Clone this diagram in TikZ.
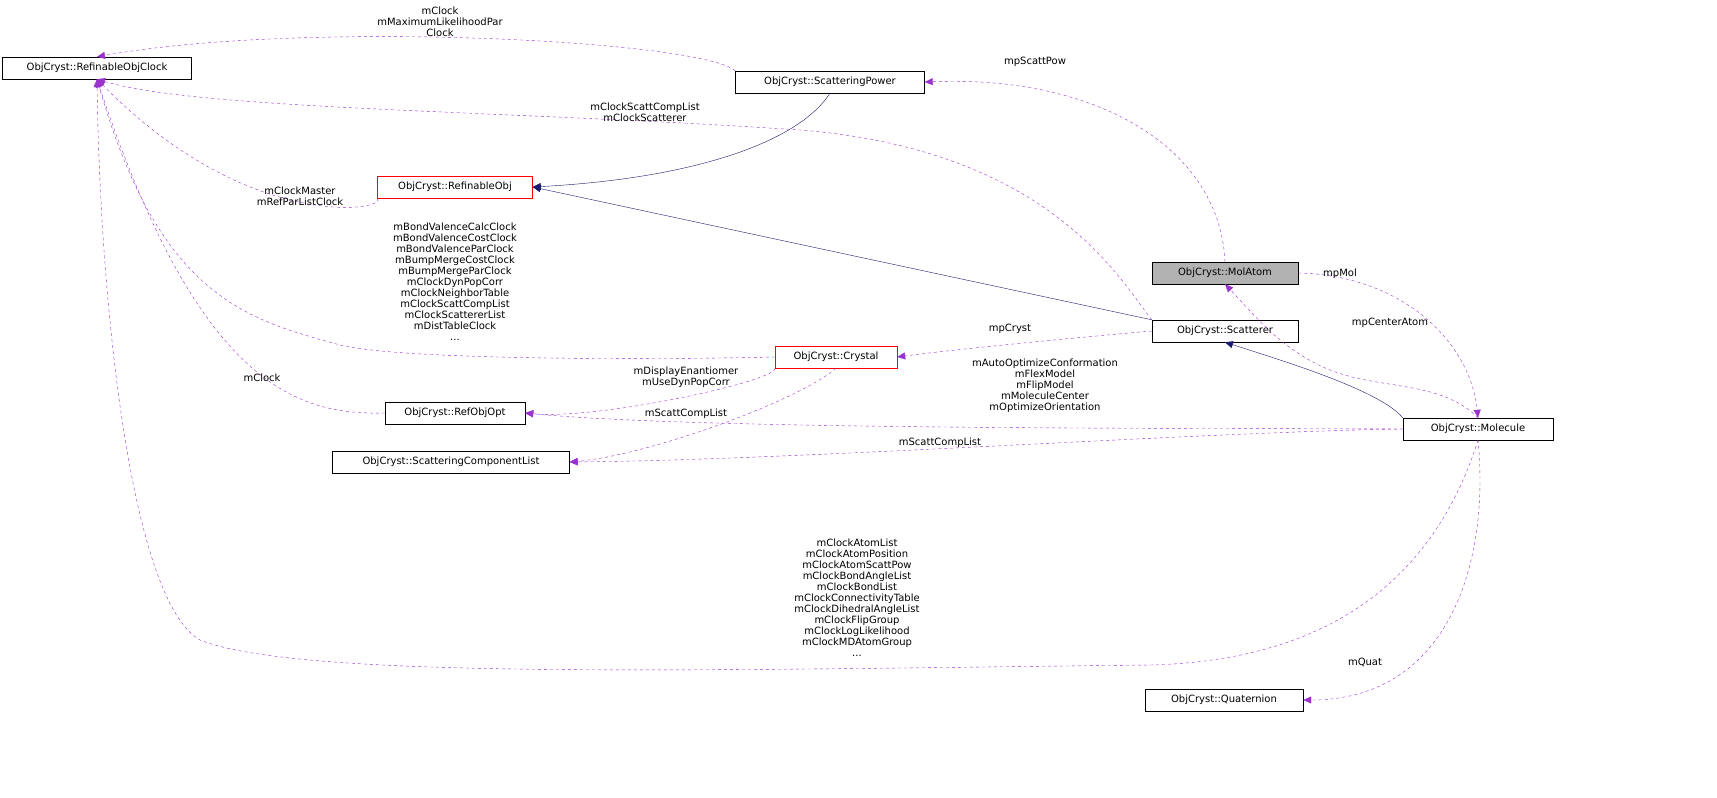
\documentclass[tikz,border=0pt]{standalone}
\usepackage{fontspec}
\setmainfont{DejaVu Sans}
\usetikzlibrary{arrows.meta}
\definecolor{dp}{HTML}{9A32CD}
\definecolor{nv}{HTML}{191970}
\begin{document}
\begin{tikzpicture}[x=1pt,y=-1pt,
  box/.style={draw,rectangle,minimum height=22pt,inner sep=3pt,font=\fontsize{10}{12}\selectfont},
  redbox/.style={box,draw=red},
  inh/.style={draw=nv,-{Triangle[open,length=8pt,width=7pt,fill=nv]}},
  use/.style={draw=dp,dashed,-{Triangle[length=8pt,width=7pt]},fill=none},
  lab/.style={font=\fontsize{10}{11}\selectfont,align=center,inner sep=0pt}]
\node[box,minimum width=189pt] (clk) at (97,68) {ObjCryst::RefinableObjClock};
\node[box,minimum width=189pt] (sp) at (830,82) {ObjCryst::ScatteringPower};
\node[redbox,minimum width=155pt] (ro) at (455,187) {ObjCryst::RefinableObj};
\node[box,minimum width=146pt,fill=black!30] (ma) at (1225,273) {ObjCryst::MolAtom};
\node[box,minimum width=146pt] (sc) at (1225,331) {ObjCryst::Scatterer};
\node[redbox,minimum width=122pt] (cr) at (836,357) {ObjCryst::Crystal};
\node[box,minimum width=140pt] (opt) at (455,413) {ObjCryst::RefObjOpt};
\node[box,minimum width=237pt] (scl) at (451,462) {ObjCryst::ScatteringComponentList};
\node[box,minimum width=150pt] (mol) at (1478,429) {ObjCryst::Molecule};
\node[box,minimum width=158pt] (q) at (1224,700) {ObjCryst::Quaternion};
% inheritance
\draw[inh] (sp.south) .. controls (800,140) and (700,178) .. (ro.east);
\draw[inh] (sc.north west) -- (ro.east);
\draw[inh] (mol.north west) .. controls (1380,390) and (1280,360) .. (sc.south);
% usage
\draw[use] (sp.north west) .. controls (700,40) and (300,20) .. (clk.north);
\node[lab] at (440,22) {mClock\\mMaximumLikelihoodPar\\Clock};
\draw[use] (sc.north west) .. controls (1120,280) and (1050,150) .. (800,130) .. controls (500,110) and (200,110) .. (clk.south);
\node[lab] at (645,112) {mClockScattCompList\\mClockScatterer};
\draw[use] (ro.south west) .. controls (390,210) and (250,235) .. (clk.south);
\node[lab] at (300,196) {mClockMaster\\mRefParListClock};
\draw[use] (cr.west) .. controls (650,360) and (400,360) .. (340,345) .. controls (250,320) and (160,300) .. (clk.south);
\node[lab] at (455,282) {mBondValenceCalcClock\\mBondValenceCostClock\\mBondValenceParClock\\mBumpMergeCostClock\\mBumpMergeParClock\\mClockDynPopCorr\\mClockNeighborTable\\mClockScattCompList\\mClockScattererList\\mDistTableClock\\...};
\draw[use] (opt.west) .. controls (300,415) and (200,390) .. (clk.south);
\node[lab] at (262,378) {mClock};
\draw[use] (mol.south) .. controls (1440,560) and (1350,660) .. (1150,665) .. controls (700,670) and (300,680) .. (200,640) .. controls (130,600) and (100,300) .. (clk.south);
\node[lab] at (857,598) {mClockAtomList\\mClockAtomPosition\\mClockAtomScattPow\\mClockBondAngleList\\mClockBondList\\mClockConnectivityTable\\mClockDihedralAngleList\\mClockFlipGroup\\mClockLogLikelihood\\mClockMDAtomGroup\\...};
\draw[use] (ma.north) .. controls (1220,150) and (1100,75) .. (sp.east);
\node[lab] at (1035,62) {mpScattPow};
\draw[use] (ma.east) .. controls (1400,275) and (1470,340) .. (mol.north);
\node[lab] at (1340,274) {mpMol};
\draw[use] (mol.north) .. controls (1440,380) and (1380,390) .. (1330,370) .. controls (1280,350) and (1250,310) .. (ma.south);
\node[lab] at (1390,323) {mpCenterAtom};
\draw[use] (sc.west) .. controls (1050,340) and (950,350) .. (cr.east);
\node[lab] at (1010,329) {mpCryst};
\draw[use] (cr.south west) .. controls (780,380) and (600,420) .. (opt.east);
\node[lab] at (686,377) {mDisplayEnantiomer\\mUseDynPopCorr};
\draw[use] (cr.south) .. controls (800,400) and (650,455) .. (scl.east);
\node[lab] at (686,414) {mScattCompList};
\draw[use] (mol.west) .. controls (1200,428) and (700,430) .. (opt.east);
\node[lab] at (1045,386) {mAutoOptimizeConformation\\mFlexModel\\mFlipModel\\mMoleculeCenter\\mOptimizeOrientation};
\draw[use] (mol.west) .. controls (1200,432) and (800,460) .. (scl.east);
\node[lab] at (940,443) {mScattCompList};
\draw[use] (mol.south) .. controls (1490,560) and (1450,700) .. (q.east);
\node[lab] at (1365,662) {mQuat};
\pgfresetboundingbox
\path[use as bounding box] (0,0) rectangle (1717,798);
\end{tikzpicture}
\end{document}
